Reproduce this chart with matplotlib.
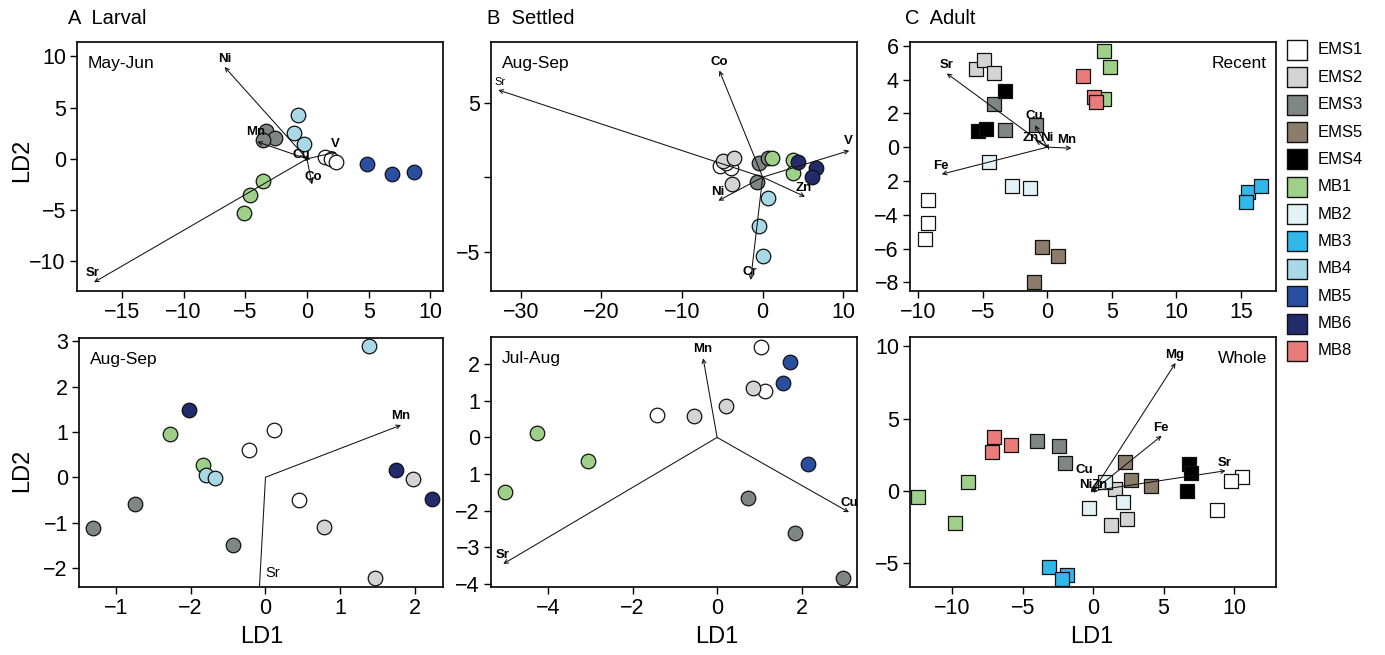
import matplotlib
matplotlib.use('Agg')
import matplotlib.pyplot as plt
from matplotlib.patches import FancyArrowPatch

plt.rcParams['font.family'] = ['Liberation Sans', 'DejaVu Sans']

# ---------------- data ----------------
groups = ['EMS1', 'EMS2', 'EMS3', 'EMS5', 'EMS4', 'MB1', 'MB2', 'MB3', 'MB4', 'MB5', 'MB6', 'MB8']
group_colors = ['#ffffff', '#d4d4d4', '#7e8784', '#8c7c6b', '#000000', '#9ed08a',
                '#e3f2f7', '#31b7ea', '#a9d8e6', '#2b4fa0', '#222b6b', '#ea7b7b']

# A Larval, May-Jun
lmj_group = ['MB4'] * 3 + ['EMS3'] * 3 + ['EMS1'] * 3 + ['MB5'] * 3 + ['MB1'] * 3
lmj_ld1 = [-0.73, -1.03, -0.24, -3.3, -2.62, -3.57, 1.43, 1.97, 2.32, 4.84, 6.86, 8.68, -3.54, -4.59, -5.08]
lmj_ld2 = [4.29, 2.5, 1.46, 2.73, 2.05, 1.82, 0.16, -0.06, -0.32, -0.49, -1.53, -1.27, -2.18, -3.54, -5.26]
lmj_vars = ['Ni', 'Mn', 'Cu', 'V', 'Co', 'Sr']
lmj_vx = [-6.68, -4.03, -0.19, 2.38, 0.41, -17.27]
lmj_vy = [8.96, 1.66, -0.23, 0.65, -2.5, -12.05]
lmj_lx = [-6.65, -4.16, -0.46, 2.32, 0.49, -17.35]
lmj_ly = [9.77, 2.63, 0.36, 1.49, -1.75, -11.17]

# A Larval, Aug-Sep
las_group = ['MB4'] * 3 + ['MB6'] * 3 + ['MB1'] * 2 + ['EMS1'] * 3 + ['EMS3'] * 3 + ['EMS2'] * 3
las_ld1 = [1.38, -0.79, -0.68, -1.02, 1.74, 2.22, -1.28, -0.84, 0.12, -0.22, 0.45, -1.74, -2.3, -0.43, 1.97, 0.78, 1.46]
las_ld2 = [2.89, 0.04, -0.01, 1.49, 0.15, -0.47, 0.96, 0.27, 1.05, 0.6, -0.5, -0.58, -1.13, -1.49, -0.04, -1.1, -2.22]
las_vars = ['Mn', 'Sr']
las_vx = [1.81, -0.1]
las_vy = [1.15, -3.0]
las_lx = [1.8, 0.1]
las_ly = [1.35, -2.11]

# B Settled, Aug-Sep
sas_group = ['EMS2'] * 3 + ['EMS1'] * 3 + ['EMS3'] * 3 + ['MB1'] * 3 + ['MB6'] * 3 + ['MB4'] * 3
sas_ld1 = [-4.96, -3.51, -3.76, -5.25, -3.88, -4.5, -0.46, 0.7, -0.74, 1.12, 3.8, 3.8, 4.34, 6.6, 6.07, 0.62, -0.45, 0.0]
sas_ld2 = [1.085, 1.29, -0.46, 0.75, 0.59, 0.95, 0.93, 1.27, -0.3, 1.27, 1.15, 0.26, 1.04, 0.6, 0.0, -1.4, -3.28, -5.31]
sas_vars = ['Sr', 'Co', 'V', 'Zn', 'Ni', 'Cr']
sas_vx = [-32.8, -5.37, 10.74, 5.25, -5.5, -1.49]
sas_vy = [5.85, 7.15, 1.78, -1.31, -1.58, -6.9]
sas_lx = [-32.56, -5.37, 10.62, 5.12, -5.58, -1.57]
sas_ly = [6.41, 7.71, 2.43, -0.73, -0.97, -6.34]

# B Settled, Jul-Aug
sja_group = ['MB1'] * 3 + ['EMS1'] * 3 + ['EMS2'] * 3 + ['MB5'] * 3 + ['EMS3'] * 3
sja_ld1 = [-4.26, -3.05, -5.01, -1.43, 1.03, 1.13, -0.55, 0.22, 0.86, 1.73, 1.57, 2.14, 0.74, 1.84, 2.99]
sja_ld2 = [0.11, -0.65, -1.49, 0.6, 2.48, 1.26, 0.59, 0.86, 1.34, 2.05, 1.48, -0.72, -1.64, -2.62, -3.84]
sja_vars = ['Mn', 'Cu', 'Sr']
sja_vx = [-0.33, 3.12, -5.06]
sja_vy = [2.16, -2.04, -3.45]
sja_lx = [-0.34, 3.12, -5.08]
sja_ly = [2.41, -1.79, -3.2]

# C Adult, Recent
are_group = ['EMS1'] * 3 + ['EMS2'] * 3 + ['EMS3'] * 3 + ['EMS4'] * 3 + ['EMS5'] * 3 + ['MB1'] * 3 + ['MB2'] * 3 + ['MB3'] * 3 + ['MB8'] * 3
are_ld1 = [-9.23, -9.26, -9.49, -5.56, -4.87, -4.15, -4.1, -3.26, -0.87, -3.26, -5.38, -4.74, -0.38, 0.87, -1.05,
           4.38, 4.9, 4.38, -4.51, -2.74, -1.36, 15.59, 16.54, 15.38, 2.77, 3.59, 3.79]
are_ld2 = [-3.12, -4.5, -5.46, 4.6, 5.13, 4.4, 2.54, 1.0, 1.3, 3.31, 0.95, 1.1, -5.9, -6.41, -7.97,
           5.7, 4.75, 2.84, -0.89, -2.31, -2.39, -2.64, -2.27, -3.27, 4.18, 2.94, 2.68]
are_vars = ['Sr', 'Fe', 'Mn', 'Cu', 'Zn', 'Ni']
are_vx = [-7.79, -8.18, 1.87, -0.95, -0.9, 0.1]
are_vy = [4.36, -1.6, -0.06, 1.3, 0.4, 0.2]
are_lx = [-7.79, -8.26, 1.54, -1.0, -1.25, 0.0]
are_ly = [4.85, -1.12, 0.41, 1.83, 0.55, 0.55]

# C Adult, Whole
awh_group = ['MB8'] * 3 + ['EMS3'] * 3 + ['MB1'] * 3 + ['MB3'] * 3 + ['EMS5'] * 3 + ['EMS4'] * 3 + ['EMS1'] * 3 + ['EMS2'] * 3 + ['MB2'] * 3
awh_ld1 = [-7.01, -5.8, -7.2, -3.98, -2.4, -1.97, -8.88, -12.42, -9.8, -3.13, -1.88, -2.19, 2.28, 2.66, 4.08,
           6.8, 6.94, 6.65, 10.56, 9.8, 8.76, 1.55, 2.38, 1.24, 0.82, 2.09, -0.3]
awh_ld2 = [3.72, 3.19, 2.66, 3.44, 3.07, 1.92, 0.6, -0.44, -2.22, -5.27, -5.8, -6.14, 2.0, 0.72, 0.32,
           1.89, 1.22, 0.0, 0.97, 0.67, -1.32, 0.16, -1.92, -2.4, 0.58, -0.74, -1.18]
awh_vars = ['Mg', 'Fe', 'Sr', 'Cu', 'Ni', 'Zn']
awh_vx = [5.85, 4.86, 9.4, -0.13, -0.1, 0.2]
awh_vy = [8.85, 3.81, 1.39, -0.05, 0.3, 0.25]
awh_lx = [5.78, 4.79, 9.33, -0.6, -0.55, 0.45]
awh_ly = [9.38, 4.34, 1.96, 1.45, 0.4, 0.4]

# ---------------- figure ----------------
W, H = 1385, 655
fig = plt.figure(figsize=(W / 100, H / 100), dpi=100)
color_of = dict(zip(groups, group_colors))

TICK_FS = 15.5
MINUS = '\u2212'


def px_axes(l, t, r, b):
    return fig.add_axes([l / W, 1 - b / H, (r - l) / W, (b - t) / H])


def panel(rect, xlim, ylim, xticks, yticks, grp, x, y, marker, vars_, vx, vy, lx, ly,
          tag, tag_right=False, xticklabels=None, yticklabels=None, label_style=None):
    ax = px_axes(*rect)
    for g in groups:
        idx = [i for i, gg in enumerate(grp) if gg == g]
        if not idx:
            continue
        ax.scatter([x[i] for i in idx], [y[i] for i in idx], marker=marker,
                   s=110 if marker == 'o' else 90, c=color_of[g],
                   edgecolors='#111111', linewidths=0.9, zorder=3)
    label_style = label_style or {}
    for v, tx, ty, lxx, lyy in zip(vars_, vx, vy, lx, ly):
        arr = FancyArrowPatch((0, 0), (tx, ty), arrowstyle='->', mutation_scale=7,
                              lw=0.75, color='#111111', shrinkA=0, shrinkB=0, zorder=4)
        ax.add_patch(arr)
        st = dict(fontsize=9.5, fontweight='bold')
        st.update(label_style.get(v, {}))
        ax.text(lxx, lyy, v, ha='center', va='center', zorder=5, clip_on=True, **st)
    ax.set_xlim(*xlim)
    ax.set_ylim(*ylim)
    ax.set_xticks(xticks)
    ax.set_yticks(yticks)
    if xticklabels is not None:
        ax.set_xticklabels(xticklabels)
    if yticklabels is not None:
        ax.set_yticklabels(yticklabels)
    ax.tick_params(direction='out', length=5, width=1, labelsize=TICK_FS, pad=3)
    for s in ax.spines.values():
        s.set_linewidth(1.2)
    if tag_right:
        ax.text(0.975, 0.945, tag, transform=ax.transAxes, ha='right', va='top', fontsize=12.5)
    else:
        ax.text(0.03, 0.945, tag, transform=ax.transAxes, ha='left', va='top', fontsize=12.5)
    return ax


# A top
panel((77, 42, 443, 291), (-18.65, 11.03), (-12.9, 11.4), [-15, -10, -5, 0, 5, 10], [-10, -5, 0, 5, 10],
      lmj_group, lmj_ld1, lmj_ld2, 'o', lmj_vars, lmj_vx, lmj_vy, lmj_lx, lmj_ly, 'May-Jun')
# B top
panel((491, 42, 857, 291), (-33.7, 11.7), (-7.64, 9.07), [-30, -20, -10, 0, 10], [-5, 0, 5],
      sas_group, sas_ld1, sas_ld2, 'o', sas_vars, sas_vx, sas_vy, sas_lx, sas_ly, 'Aug-Sep',
      yticklabels=[MINUS + '5', '', '5'],
      label_style={'Sr': dict(fontweight='normal', fontsize=8)})
# C top
panel((910, 42, 1276, 291), (-10.64, 17.73), (-8.51, 6.22), [-10, -5, 0, 5, 10, 15], [-8, -6, -4, -2, 0, 2, 4, 6],
      are_group, are_ld1, are_ld2, 's', are_vars, are_vx, are_vy, are_lx, are_ly, 'Recent', tag_right=True,
      yticklabels=[MINUS + '8', MINUS + '6', MINUS + '4', '2', '0', '2', '4', '6'])
# A bottom
panel((79, 338, 443, 587), (-2.49, 2.37), (-2.42, 3.07), [-2, -1, 0, 1, 2], [-2, -1, 0, 1, 2, 3],
      las_group, las_ld1, las_ld2, 'o', las_vars, las_vx, las_vy, las_lx, las_ly, 'Aug-Sep',
      xticklabels=[MINUS + '1', MINUS + '2', '0', '1', '2'],
      label_style={'Sr': dict(fontweight='normal', fontsize=10.5)})
# B bottom
panel((491, 337, 857, 587), (-5.35, 3.31), (-4.08, 2.74), [-4, -2, 0, 2], [-4, -3, -2, -1, 0, 1, 2],
      sja_group, sja_ld1, sja_ld2, 'o', sja_vars, sja_vx, sja_vy, sja_lx, sja_ly, 'Jul-Aug',
      yticklabels=[MINUS + '4', MINUS + '3', MINUS + '2', '1', '0', '1', '2'])
# C bottom
panel((910, 337, 1276, 587), (-13.0, 12.98), (-6.66, 10.65), [-10, -5, 0, 5, 10], [-5, 0, 5, 10],
      awh_group, awh_ld1, awh_ld2, 's', awh_vars, awh_vx, awh_vy, awh_lx, awh_ly, 'Whole', tag_right=True)

# titles
for xpx, letter, name in [(68, 'A', 'Larval'), (487, 'B', 'Settled'), (905, 'C', 'Adult')]:
    fig.text(xpx / W, 1 - 18 / H, letter + '  ' + name, ha='left', va='center', fontsize=14.5)

# axis labels
for ypx in (160, 470):
    fig.text(22 / W, 1 - ypx / H, 'LD2', rotation=90, ha='center', va='center', fontsize=17)
for xpx in (262, 717, 1092):
    fig.text(xpx / W, 1 - 637 / H, 'LD1', ha='center', va='center', fontsize=17)

# legend
lax = fig.add_axes([0, 0, 1, 1], facecolor='none')
lax.set_xlim(0, W)
lax.set_ylim(H, 0)
lax.axis('off')
for i, (g, c) in enumerate(zip(groups, group_colors)):
    ypx = 50 + i * 27.35
    lax.scatter([1297], [ypx], marker='s', s=210, c=c, edgecolors='#111111', linewidths=1.0)
    lax.text(1318, ypx, g, ha='left', va='center', fontsize=12)

fig.savefig('out.png', dpi=100)
